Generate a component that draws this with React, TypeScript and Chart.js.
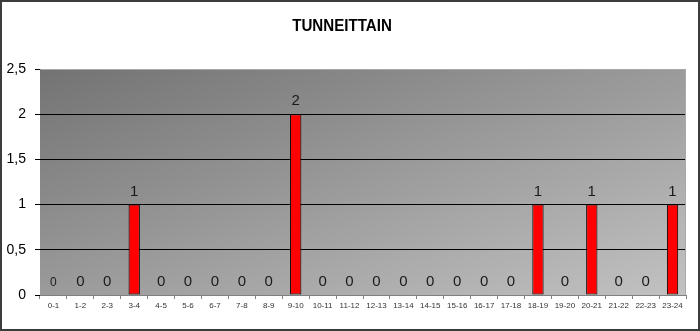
import React, { useEffect, useRef } from "react";
import { Chart, registerables } from "chart.js";

Chart.register(...registerables);

const categories = ["0-1","1-2","2-3","3-4","4-5","5-6","6-7","7-8","8-9","9-10","10-11","11-12","12-13","13-14","14-15","15-16","16-17","17-18","18-19","19-20","20-21","21-22","22-23","23-24"];
const values = [0,0,0,1,0,0,0,0,0,2,0,0,0,0,0,0,0,0,1,0,1,0,0,1];
const title = "TUNNEITTAIN";
const yMax = 2.5;
const yStep = 0.5;

const REGULAR = "'Liberation Sans', Arial, sans-serif";

const bgPlugin = {
  id: "bgPlugin",
  beforeDraw(chart: any) {
    const { ctx, chartArea } = chart;
    const { left, top, right, bottom } = chartArea;
    ctx.save();
    ctx.fillStyle = "#ffffff";
    ctx.fillRect(0, 0, chart.width, chart.height);
    ctx.translate(left, top);
    ctx.scale(right - left, bottom - top);
    const g = ctx.createLinearGradient(0, 0, 1, 1);
    g.addColorStop(0, "#737373");
    g.addColorStop(1, "#c2c2c2");
    ctx.fillStyle = g;
    ctx.fillRect(0, 0, 1, 1);
    ctx.restore();
  },
  afterDatasetsDraw(chart: any) {
    const { ctx, chartArea } = chart;
    ctx.save();
    ctx.strokeStyle = "#a8a8a8";
    ctx.lineWidth = 1;
    ctx.beginPath();
    ctx.moveTo(Math.round(chartArea.left) + 0.5, Math.round(chartArea.top) + 0.5);
    ctx.lineTo(Math.round(chartArea.right) - 0.5, Math.round(chartArea.top) + 0.5);
    ctx.lineTo(Math.round(chartArea.right) - 0.5, Math.round(chartArea.bottom) + 0.5);
    ctx.stroke();
    ctx.strokeStyle = "#808080";
    ctx.beginPath();
    ctx.moveTo(Math.round(chartArea.left), Math.round(chartArea.bottom) + 0.5);
    ctx.lineTo(Math.round(chartArea.right), Math.round(chartArea.bottom) + 0.5);
    ctx.stroke();

    // value labels
    const meta = chart.getDatasetMeta(0);
    ctx.fillStyle = "#1a1a1a";
    ctx.textAlign = "center";
    ctx.textBaseline = "alphabetic";
    meta.data.forEach((bar: any, i: number) => {
      const v = chart.data.datasets[0].data[i];
      const size = i === 0 ? 12 : 15;
      ctx.font = `${size}px ${REGULAR}`;
      ctx.fillText(String(v).replace(".", ","), bar.x, bar.y - 9);
    });

    // title (narrow bold)
    ctx.save();
    ctx.translate(342, 30.5);
    ctx.scale(0.89, 1);
    ctx.fillStyle = "#000000";
    ctx.font = `bold 17px ${REGULAR}`;
    ctx.textAlign = "center";
    ctx.fillText(title, 0, 0);
    ctx.restore();

    // outer border
    ctx.strokeStyle = "#3c3c3c";
    ctx.lineWidth = 2;
    ctx.strokeRect(1, 1, chart.width - 2, chart.height - 2);
    ctx.restore();
  },
};

export default function App() {
  const ref = useRef<HTMLCanvasElement | null>(null);
  useEffect(() => {
    document.body.style.margin = "0";
    if (!ref.current) return;
    const chart = new Chart(ref.current, {
      type: "bar",
      data: {
        labels: categories,
        datasets: [
          {
            data: values,
            backgroundColor: "#ff0000",
            borderColor: "#000000",
            borderWidth: (c: any) => (c.raw === 0 ? 0 : 1),
            borderSkipped: false,
            categoryPercentage: 1,
            barPercentage: 0.42,
          },
        ],
      },
      options: {
        responsive: false,
        animation: false,
        devicePixelRatio: 1,
        layout: { padding: { top: 69, left: 0, right: 14, bottom: 0 } },
        plugins: {
          legend: { display: false },
          tooltip: { enabled: false },
          title: { display: false },
        },
        scales: {
          x: {
            offset: true,
            border: { display: false },
            grid: {
              offset: true,
              drawOnChartArea: false,
              drawTicks: true,
              tickLength: 4,
              color: "#808080",
              tickColor: "#808080",
            },
            ticks: {
              autoSkip: false,
              maxRotation: 0,
              minRotation: 0,
              padding: 2,
              color: "#333333",
              font: { family: REGULAR, size: 8 },
            },
            afterFit: (s: any) => {
              s.height = 36;
            },
          },
          y: {
            min: 0,
            max: yMax,
            border: { display: false },
            grid: {
              color: (c: any) =>
                c.tick && c.tick.value > 0 && c.tick.value < yMax ? "#000000" : "rgba(0,0,0,0)",
              tickColor: "#000000",
              tickLength: 5,
              lineWidth: 1,
            },
            ticks: {
              stepSize: yStep,
              padding: 9,
              color: "#000000",
              font: { family: REGULAR, size: 14 },
              callback: (v: any) => String(v).replace(".", ","),
            },
            afterFit: (s: any) => {
              s.width = 40;
            },
          },
        },
      },
      plugins: [bgPlugin],
    });
    return () => chart.destroy();
  }, []);
  return (
    <div style={{ width: 700, height: 331 }}>
      <canvas ref={ref} width={700} height={331} style={{ display: "block" }} />
    </div>
  );
}
